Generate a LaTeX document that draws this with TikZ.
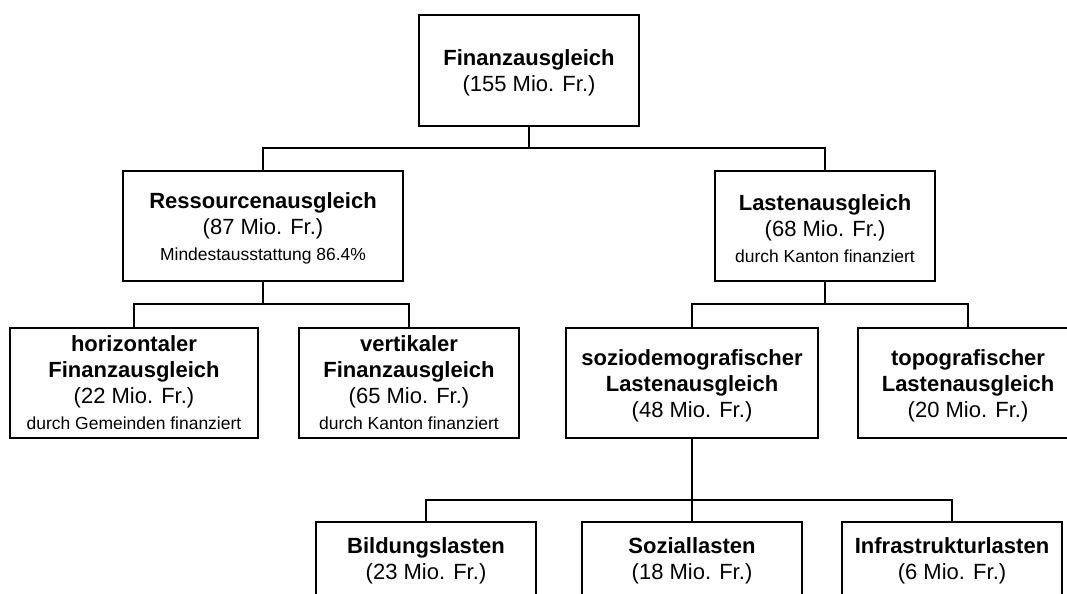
\documentclass[tikz,border=0pt]{standalone}
\usepackage{fontspec}
\setmainfont{Liberation Sans}
\newcommand\fbig{\fontsize{16.5}{19.5}\selectfont}
\newcommand\fsml{\fontsize{13.1}{15.75}\selectfont}
\newcommand\tup{\rule{0pt}{16pt}}
\tikzset{
  box/.style={draw, line width=2.1pt, inner sep=0pt, align=center,
    minimum height=82.5pt, font=\fbig},
  conn/.style={line width=1.9pt}
}
\begin{document}
\begin{tikzpicture}[x=0.75pt,y=-0.75pt]
\useasboundingbox (0,0) rectangle (1067,593);
\clip (0,0) rectangle (1067,593);
% level 0
\node[box, minimum width=165pt, minimum height=83.25pt] (fa) at (529,70.5)
  {\tup\textbf{Finanzausgleich}\\(155 Mio. Fr.)};
% level 1
\node[box, minimum width=210pt] (ra) at (263,226)
  {\tup\textbf{Ressourcenausgleich}\\(87 Mio. Fr.)\\\fsml Mindestausstattung 86.4\%};
\node[box, minimum width=165pt] (la) at (825,226)
  {\tup\textbf{Lastenausgleich}\\(68 Mio. Fr.)\\\fsml durch Kanton finanziert};
% level 2
\node[box, minimum width=186pt] (hf) at (134,383)
  {\textbf{horizontaler}\\\textbf{Finanzausgleich}\\(22 Mio. Fr.)\\\fsml durch Gemeinden finanziert};
\node[box, minimum width=165pt] (vf) at (409,383)
  {\textbf{vertikaler}\\\textbf{Finanzausgleich}\\(65 Mio. Fr.)\\\fsml durch Kanton finanziert};
\node[box, minimum width=189pt] (sl) at (692,383)
  {\tup\textbf{soziodemografischer}\\\textbf{Lastenausgleich}\\(48 Mio. Fr.)};
\node[box, minimum width=165pt] (tl) at (968,383)
  {\tup\textbf{topografischer}\\\textbf{Lastenausgleich}\\(20 Mio. Fr.)};
% level 3
\node[box, minimum width=165pt, text depth=28pt] (bl) at (426,577)
  {\textbf{Bildungslasten}\\(23 Mio. Fr.)};
\node[box, minimum width=165pt, text depth=28pt] (zl) at (692,577)
  {\textbf{Soziallasten}\\(18 Mio. Fr.)};
\node[box, minimum width=165pt, text depth=28pt] (il) at (952,577)
  {\textbf{Infrastrukturlasten}\\(6 Mio. Fr.)};
% junctions
\coordinate (j1) at (529,148);
\coordinate (j2) at (263,304);
\coordinate (j3) at (825,304);
\coordinate (j4) at (692,500);
% connectors
\draw[conn] (fa.south) -- (j1);
\draw[conn] (ra.north) |- (j1) -| (la.north);
\draw[conn] (ra.south) -- (j2);
\draw[conn] (hf.north) |- (j2) -| (vf.north);
\draw[conn] (la.south) -- (j3);
\draw[conn] (sl.north) |- (j3) -| (tl.north);
\draw[conn] (sl.south) -- (j4);
\draw[conn] (bl.north) |- (j4) -| (il.north);
\draw[conn] (j4) -- (zl.north);
\end{tikzpicture}
\end{document}
